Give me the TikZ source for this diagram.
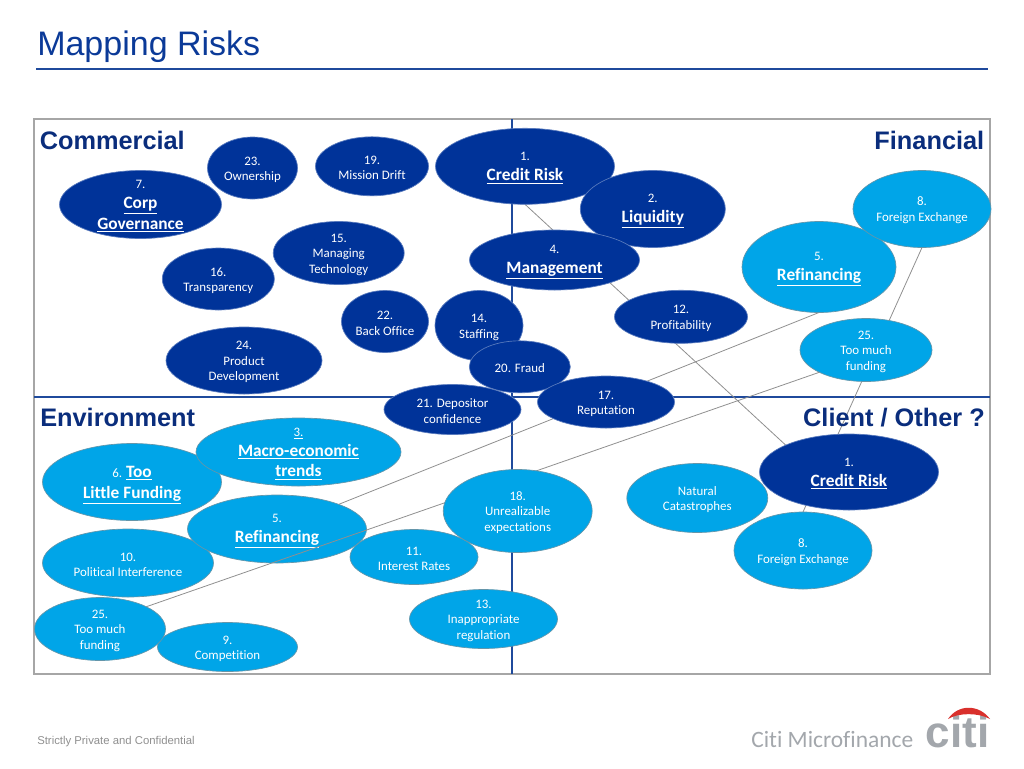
\documentclass[tikz,border=0pt]{standalone}
\usepackage{fontspec}
\setmainfont{Carlito}[Ligatures=CommonOff]
\newfontfamily\arialfont{Liberation Sans}
\usetikzlibrary{calc,positioning,shapes.geometric,backgrounds}
\definecolor{Navy}{HTML}{003399}
\definecolor{Sky}{HTML}{00A5E8}
\definecolor{HeadInk}{HTML}{0A2D7C}
\definecolor{TitleInk}{HTML}{0B3A98}
\definecolor{CrossInk}{HTML}{1F4A9C}
\definecolor{FrameGray}{HTML}{A6A6A6}
\definecolor{LinkGray}{HTML}{8F8F8F}
\definecolor{LogoGray}{HTML}{A3A7AC}
\definecolor{LogoRed}{HTML}{D9302C}
\newcommand{\bigrisk}[1]{{\fontsize{13}{15}\selectfont\bfseries\underline{#1}}}
\newcommand{\topstrut}{\rule{0pt}{8.8pt}}

\begin{document}
\begin{tikzpicture}[
      x=0.75pt, y=-0.75pt,
      blob/.style 2 args={ellipse, minimum width=#1*0.75pt, minimum height=#2*0.75pt,
                  inner sep=-10pt, outer sep=0pt, align=center, text=white,
                  font=\fontsize{9.7}{11.7}\selectfont, line width=0.5pt},
      darkblob/.style 2 args={blob={#1}{#2}, fill=Navy, draw=Navy!65!white},
      lightblob/.style 2 args={blob={#1}{#2}, fill=Sky, draw=LinkGray!70!Sky},
      head/.style={font=\arialfont\bfseries\fontsize{19}{22}\selectfont, text=HeadInk, inner sep=0pt},
      link/.style={draw=LinkGray, line width=0.6pt}
    ]
      \useasboundingbox (0,0) rectangle (1024,768);
      \node[anchor=west, inner sep=0pt, text=TitleInk, font=\arialfont\fontsize{25.5}{28}\selectfont] (title) at (37,46.5) {Mapping Risks};
      \coordinate (rulea) at (36,69);
      \coordinate (ruleb) at (988,69);
      \draw[CrossInk, line width=1pt] (rulea) -- (ruleb);

      \node[lightblob={171}{68}] (politic) at (128,563) {\topstrut 10.\\Political Interference};
      \node[lightblob={140}{49}] (compet) at (227.5,647) {\topstrut 9.\\Competition};
      \node[lightblob={179}{77}] (toolittle) at (132,482) {\rule{0pt}{13pt}6. \bigrisk{Too}\\[3.75pt]\bigrisk{Little Funding}};
      \node[lightblob={179}{68}] (refinb) at (277,529) {\topstrut 5.\\[3.4pt]\bigrisk{Refinancing}};
      \node[lightblob={131}{63}] (toomuchb) at (100,629) {\topstrut 25.\\Too much\\funding};
      \node[lightblob={132}{63}] (toomucht) at (866,350) {\topstrut 25.\\Too much\\funding};
      \draw[link] (toomucht.south west) -- (toomuchb.north east);
      \node[lightblob={205}{68}] (macro) at (298.5,452) {\topstrut\underline{3.}\\[3.4pt]\bigrisk{Macro-economic}\\[3.75pt]\bigrisk{trends}};
      \node[lightblob={128}{55}] (rates) at (414,557) {\topstrut 11.\\Interest Rates};
      \node[lightblob={149}{83}] (unreal) at (517.7,511) {\topstrut 18.\\Unrealizable\\expectations};
      \node[lightblob={148}{59}] (regul) at (483.5,619) {\topstrut 13.\\Inappropriate\\regulation};
      \node[lightblob={141}{69}] (natural) at (697.3,498) {\topstrut Natural\\Catastrophes};
      \node[lightblob={138}{77}] (forexb) at (803,550.5) {\topstrut 8.\\Foreign Exchange};
      \node[darkblob={179}{76}] (creditb) at (849,472) {\topstrut 1.\\[3.4pt]\bigrisk{Credit Risk}};
      \node[lightblob={154}{91}] (refint) at (819,267) {\topstrut 5.\\[3.4pt]\bigrisk{Refinancing}};
      \node[lightblob={138}{77}] (forext) at (922,209) {\topstrut 8.\\Foreign Exchange};

      \node[darkblob={162}{68}] (corp) at (140.5,204.5) {\topstrut 7.\\[3.4pt]\bigrisk{Corp}\\[1.5pt]\bigrisk{Governance}};
      \node[darkblob={90}{62}] (owner) at (252.5,168) {\topstrut 23.\\Ownership};
      \node[darkblob={113}{59}] (mission) at (372,166.3) {\topstrut 19.\\Mission Drift};
      \node[darkblob={131}{63}] (tech) at (338.7,253) {\topstrut 15.\\Managing\\Technology};
      \node[darkblob={112}{62}] (transp) at (218.3,279) {\topstrut 16.\\Transparency};
      \node[darkblob={87}{62}] (backoff) at (385,321.5) {\topstrut 22.\\Back Office};
      \node[darkblob={156}{67}] (product) at (244,360.5) {\topstrut 24.\\Product\\Development};
      \node[darkblob={88}{70}] (staff) at (479,325.5) {\topstrut 14.\\Staffing};
      \node[darkblob={179}{76}] (creditt) at (525,166.3) {\topstrut 1.\\[3.4pt]\bigrisk{Credit Risk}};
      \node[darkblob={145}{77}] (liquid) at (652.8,209) {\topstrut 2.\\[3.4pt]\bigrisk{Liquidity}};
      \node[darkblob={170}{60}] (manage) at (554.5,260) {\topstrut 4.\\[3.4pt]\bigrisk{Management}};
      \node[darkblob={133}{53}] (profit) at (681,316.8) {\topstrut 12.\\Profitability};
      \node[darkblob={137}{50}] (deposit) at (452.5,409.5) {\topstrut 21. Depositor\\confidence};
      \node[darkblob={101}{52}] (fraud) at (519.8,366.8) {\topstrut 20. Fraud};
      \node[darkblob={137}{52}] (reput) at (606,402) {\topstrut 17.\\Reputation};

      \node[head, anchor=west] (comm) at (39.5,140.3) {Commercial};
      \node[head, anchor=east] (fin) at (984.5,140.3) {Financial};
      \node[head, anchor=west] (envir) at (40,417.5) {Environment};
      \node[head, anchor=east] (client) at (985,418) {Client / Other ?};

      \begin{scope}[on background layer]
        \draw[FrameGray, line width=1.5pt] (34,119) rectangle (990,674);
        \draw[CrossInk, line width=1.1pt] (34,397) -- (990,397);
        \draw[CrossInk, line width=1.1pt] (512,119) -- (512,674);
        \draw[link] (creditt.south) -- (creditb.north west);
        \draw[link] (refint.south) -- (refinb);
        \draw[link] (forext.south) -- (forexb.north);
      \end{scope}

      \node[anchor=west, inner sep=0pt, text=LinkGray, font=\arialfont\fontsize{8.5}{10}\selectfont] (conf) at (37,741.5) {Strictly Private and Confidential};
      \node[anchor=west, inner sep=0pt, text=LogoGray, font=\fontsize{17.6}{20}\selectfont] (micro) at (751,739.5) {Citi Microfinance};
      \node[anchor=base west, inner sep=0pt, text=LogoGray, font=\arialfont\fontsize{33}{34}\selectfont\bfseries] (citi) at (925.5,747) {citi};
      \fill[LogoRed] (948,719) .. controls (958,704) and (979,704) .. (990,719) .. controls (978,712.5) and (959,712.5) .. (948,719) -- cycle;
    \end{tikzpicture}
\end{document}
